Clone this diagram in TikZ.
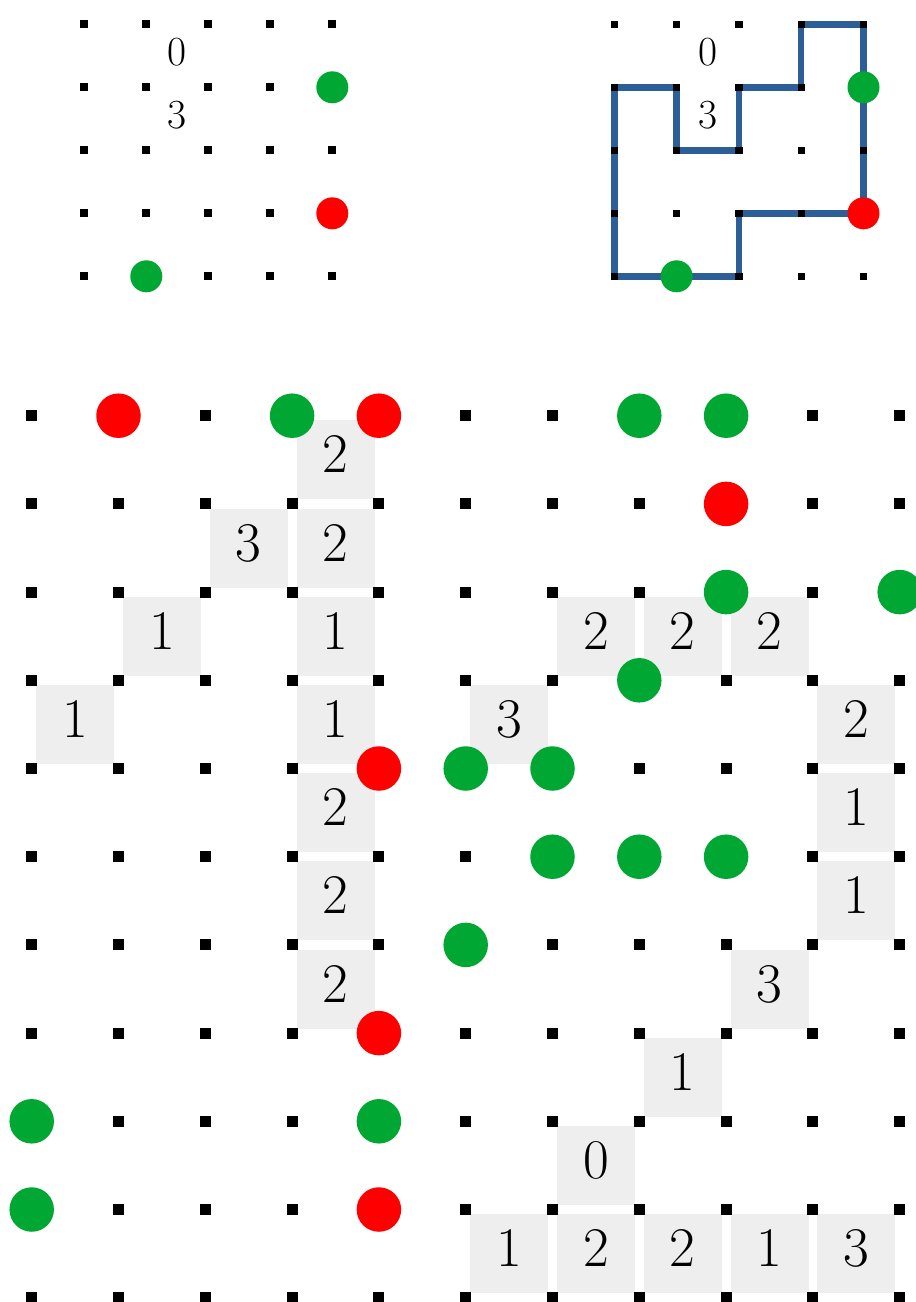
\documentclass[tikz,border=0pt]{standalone}
\usepackage{fontspec}
\definecolor{pgreen}{HTML}{00A833}
\definecolor{pred}{HTML}{FF0000}
\definecolor{pblue}{HTML}{2C5E98}
\definecolor{pbox}{HTML}{EEEEEE}
\tikzset{
  gsmall/.style={circle,fill=pgreen,inner sep=0pt,minimum size=32pt},
  rsmall/.style={circle,fill=pred,inner sep=0pt,minimum size=32pt},
  gbig/.style={circle,fill=pgreen,inner sep=0pt,minimum size=44.5pt},
  rbig/.style={circle,fill=pred,inner sep=0pt,minimum size=44.5pt},
  topnum/.style={inner sep=0pt,font=\fontsize{41.4}{45}\selectfont,text height=22.7pt,text depth=4pt},
  clue/.style={fill=pbox,inner sep=0pt,minimum width=78pt,minimum height=79pt,
    font=\fontsize{56}{60}\selectfont,text height=31pt,text depth=5pt},
  loopline/.style={draw=pblue,line width=6.5pt,line join=miter}
}
\begin{document}
\begin{tikzpicture}[x=1pt,y=-1pt]
\useasboundingbox (0,0) rectangle (916,1302);
\fill[white] (0,0) rectangle (916,1302);

% ---------- top-left small grid ----------
\begin{scope}[shift={(84.3pt,-24.3pt)},x=62pt,y=-63pt]
  \foreach \i in {0,...,4} \foreach \j in {0,...,4}
    \fill (\i,\j) +(-4pt,-4pt) rectangle +(4pt,4pt);
  \node[topnum] (tlzero) at (1.5,0.5) {0};
  \node[topnum] (tlthree) at (1.5,1.5) {3};
  \node[gsmall] (tlg1) at (4,1) {};
  \node[rsmall] (tlr1) at (4,3) {};
  \node[gsmall] (tlg2) at (1,4) {};
\end{scope}

% ---------- top-right small grid (solved) ----------
\begin{scope}[shift={(614.3pt,-24.3pt)},x=62.3pt,y=-63pt]
  \foreach \i in {0,...,4} \foreach \j in {0,...,4}
    \coordinate (p-\i-\j) at (\i,\j);
  \draw[loopline] (p-0-1) -- (p-1-1) -- (p-1-2) -- (p-2-2) -- (p-2-1) -- (p-3-1)
    -- (p-3-0) -- (p-4-0) -- (p-4-3) -- (p-2-3) -- (p-2-4) -- (p-0-4) -- cycle;
  \foreach \i in {0,...,4} \foreach \j in {0,...,4}
    \fill (p-\i-\j) +(-3.7pt,-3.7pt) rectangle +(3.7pt,3.7pt);
  \node[topnum] (trzero) at (1.5,0.5) {0};
  \node[topnum] (trthree) at (1.5,1.5) {3};
  \node[gsmall] (trg1) at (4,1) {};
  \node[rsmall] (trr1) at (4,3) {};
  \node[gsmall] (trg2) at (1,4) {};
\end{scope}

% ---------- big puzzle grid ----------
\begin{scope}[shift={(31.7pt,-415.7pt)},x=86.8pt,y=-88.2pt]
  % clue boxes
  \foreach \c/\r/\v [count=\k] in {3/0/2, 2/1/3, 3/1/2, 1/2/1, 3/2/1, 6/2/2, 7/2/2, 8/2/2,
      0/3/1, 3/3/1, 5/3/3, 9/3/2, 3/4/2, 9/4/1, 3/5/2, 9/5/1, 3/6/2, 8/6/3,
      7/7/1, 6/8/0, 5/9/1, 6/9/2, 7/9/2, 8/9/1, 9/9/3}
    \node[clue] (clue\k) at (\c+0.5,\r+0.5) {\v};
  % grid dots
  \foreach \i in {0,...,10} \foreach \j in {0,...,10}
    \fill (\i,\j) +(-5.5pt,-5.5pt) rectangle +(5.5pt,5.5pt);
  % red circles
  \foreach \c/\r [count=\k] in {1/0, 4/0, 8/1, 4/4, 4/7, 4/9}
    \node[rbig] (red\k) at (\c,\r) {};
  % green circles
  \foreach \c/\r [count=\k] in {3/0, 7/0, 8/0, 8/2, 10/2, 7/3, 5/4, 6/4,
      6/5, 7/5, 8/5, 5/6, 0/8, 4/8, 0/9}
    \node[gbig] (green\k) at (\c,\r) {};
\end{scope}
\end{tikzpicture}
\end{document}
